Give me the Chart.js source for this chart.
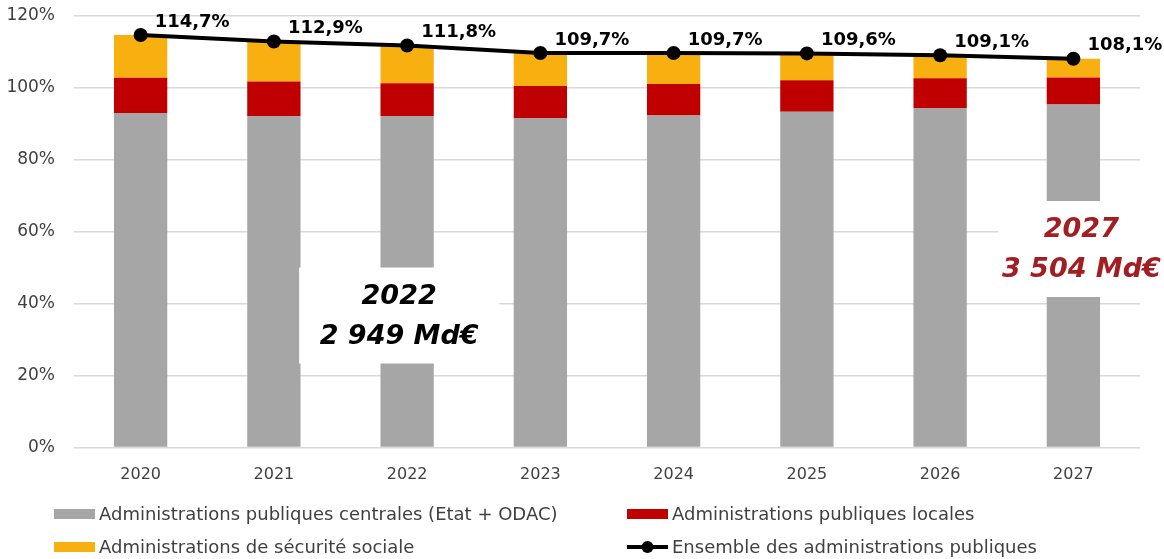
<!DOCTYPE html>
<html>
<head>
<meta charset="utf-8">
<script src="https://cdn.jsdelivr.net/npm/chart.js@4.4.0/dist/chart.umd.min.js"></script>
<style>
  html, body { margin: 0; padding: 0; background: #fff; }
  #wrap { position: relative; width: 1164px; height: 559px; }
</style>
</head>
<body>
<div id="wrap"><canvas id="chart" width="1164" height="559"></canvas></div>
<script>
// données (% du PIB)
const years = ["2020", "2021", "2022", "2023", "2024", "2025", "2026", "2027"];
const centrales = [93.0, 92.2, 92.2, 91.6, 92.3, 93.4, 94.4, 95.4];
const locales   = [9.8, 9.6, 9.1, 8.9, 8.8, 8.7, 8.3, 7.5];
const secu      = [11.9, 11.1, 10.5, 9.2, 8.6, 7.5, 6.4, 5.2];
const ensemble  = [114.7, 112.9, 111.8, 109.7, 109.7, 109.6, 109.1, 108.1];
const yTicks    = [0, 20, 40, 60, 80, 100, 120];

const labels = [
  "Administrations publiques centrales (Etat + ODAC)",
  "Administrations publiques locales",
  "Administrations de sécurité sociale",
  "Ensemble des administrations publiques"
];

// encadrés (position en index de catégorie / valeur de l'axe)
const boxes = [
  { lines: ["2022", "2 949 Md€"], x: 1.94, y: 36.7, w: 200, h: 96, color: "#000000" },
  { lines: ["2027", "3 504 Md€"], x: 7.06, y: 55.2, w: 166, h: 96, color: "#A31E22" }
];

const FONT = "'DejaVu Sans', sans-serif";
const fmt = v => v.toFixed(1).replace(".", ",") + "%";

const boxPlugin = {
  id: "boxes",
  afterDatasetsDraw(chart) {
    const { ctx, scales: { x, y } } = chart;
    ctx.save();
    boxes.forEach(b => {
      const cx = x.getPixelForValue(b.x);
      const cy = y.getPixelForValue(b.y);
      ctx.fillStyle = "#fff";
      ctx.fillRect(cx - b.w / 2, cy - b.h / 2, b.w, b.h);
      ctx.fillStyle = b.color;
      ctx.font = "italic bold 27px " + FONT;
      ctx.textAlign = "center";
      ctx.textBaseline = "middle";
      ctx.fillText(b.lines[0], cx, cy - 19);
      ctx.fillText(b.lines[1], cx, cy + 21);
    });
    ctx.restore();
  }
};

const labelPlugin = {
  id: "pointLabels",
  afterDraw(chart) {
    const { ctx } = chart;
    const meta = chart.getDatasetMeta(3);
    ctx.save();
    ctx.font = "bold 18px " + FONT;
    ctx.fillStyle = "#000";
    ctx.textAlign = "left";
    ctx.textBaseline = "middle";
    meta.data.forEach((pt, i) => {
      ctx.fillText(fmt(ensemble[i]), pt.x + 14, pt.y - 13);
    });
    ctx.restore();
  }
};

const legendPlugin = {
  id: "legend2col",
  afterDraw(chart) {
    const { ctx } = chart;
    const ds = chart.data.datasets;
    const cols = [54, 627];
    const rows = [514, 547];
    ctx.save();
    ctx.font = "18px " + FONT;
    ctx.textBaseline = "middle";
    ctx.textAlign = "left";
    ds.forEach((d, k) => {
      const sx = cols[k % 2];
      const sy = rows[Math.floor(k / 2)];
      if (d.type === "line") {
        ctx.strokeStyle = "#000";
        ctx.lineWidth = 4;
        ctx.beginPath();
        ctx.moveTo(sx, sy);
        ctx.lineTo(sx + 41, sy);
        ctx.stroke();
        ctx.fillStyle = "#000";
        ctx.beginPath();
        ctx.arc(sx + 20.5, sy, 6, 0, Math.PI * 2);
        ctx.fill();
      } else {
        ctx.fillStyle = d.backgroundColor;
        ctx.fillRect(sx, sy - 5, 41, 10);
      }
      ctx.fillStyle = "#404040";
      ctx.fillText(d.label, sx + 45, sy + 1);
    });
    ctx.restore();
  }
};

new Chart(document.getElementById("chart"), {
  data: {
    labels: years,
    datasets: [
      { type: "bar", label: labels[0], data: centrales, backgroundColor: "#A6A6A6", stack: "apu", order: 1 },
      { type: "bar", label: labels[1], data: locales, backgroundColor: "#C00000", stack: "apu", order: 1 },
      { type: "bar", label: labels[2], data: secu, backgroundColor: "#F8AF10", stack: "apu", order: 1 },
      {
        type: "line", label: labels[3], data: ensemble, stack: "total", order: 0,
        borderColor: "#000", backgroundColor: "#000", borderWidth: 4,
        pointRadius: 7, pointBackgroundColor: "#000", pointBorderWidth: 0, tension: 0
      }
    ]
  },
  options: {
    responsive: false,
    animation: false,
    devicePixelRatio: 1,
    layout: { autoPadding: false, padding: { left: 0, right: 24, top: 16, bottom: 66.5 } },
    plugins: { legend: { display: false }, tooltip: { enabled: false } },
    datasets: { bar: { categoryPercentage: 1, barPercentage: 0.4 } },
    scales: {
      x: {
        stacked: true,
        grid: { display: false },
        border: { display: false },
        ticks: { color: "#404040", font: { family: FONT, size: 16 }, padding: 10, maxRotation: 0 },
        afterFit(s) { s.height = 45; s.paddingLeft = 0; s.paddingRight = 0; }
      },
      y: {
        stacked: true,
        min: 0, max: 120,
        afterBuildTicks(s) { s.ticks = yTicks.map(v => ({ value: v })); },
        grid: { color: "#D9D9D9", lineWidth: 1.5, drawTicks: false },
        border: { display: false },
        ticks: { color: "#404040", font: { family: FONT, size: 17 }, padding: 19, callback: v => v + "%" },
        afterFit(s) { s.width = 74; s.paddingTop = 0; s.paddingBottom = 0; }
      }
    }
  },
  plugins: [boxPlugin, labelPlugin, legendPlugin]
});
</script>
</body>
</html>
